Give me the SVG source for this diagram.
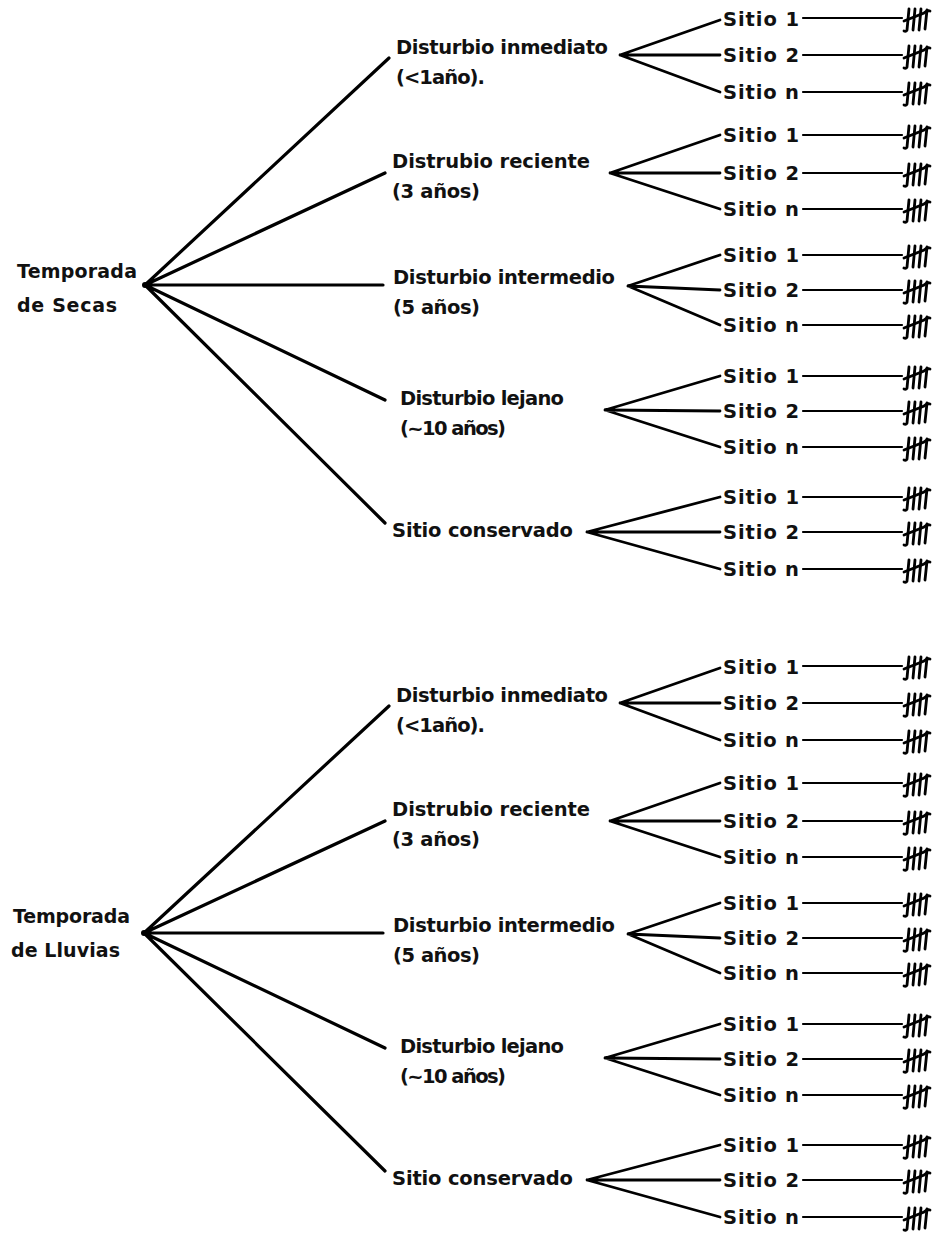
<svg xmlns="http://www.w3.org/2000/svg" xmlns:xlink="http://www.w3.org/1999/xlink" width="936" height="1236" viewBox="0 0 936 1236">
<style>
.t{font-family:"DejaVu Sans","Liberation Sans",sans-serif;font-weight:bold;font-size:19.5px;fill:#111}
.r{font-size:19px}
.c{stroke:#000;fill:none;stroke-linecap:round}
.m{stroke-width:3.2}
.s{stroke-width:2.8}
.h{stroke-width:2.2}
.tk{stroke:#000;stroke-width:2.8;fill:none;stroke-linecap:round}
</style>
<defs>
<g id="tally">
<path class="tk" d="M5 12 L7 -9 M5 12 Q4 14 2 13"/>
<path class="tk" d="M11 12 L13 -9"/>
<path class="tk" d="M17 12 L19 -9"/>
<path class="tk" d="M23 11 L25 -8"/>
<path class="tk" d="M2 3 L22 -5 Q25 -8 28 -7"/>
</g>
</defs>
<rect width="936" height="1236" fill="#fff"/>

<g id="connectors">
<path class="c m" d="M145 285 L389 58 M145 285 L385 173 M145 285 L383 285 M145 285 L385 400 M145 285 L385 523"/>
<path class="c s" d="M620 55 L720 20 M620 55 L720 55 M620 55 L720 92"/>
<path class="c s" d="M610 173 L720 135 M610 173 L720 173 M610 173 L720 209"/>
<path class="c s" d="M628 286 L720 255 M628 286 L720 290 M628 286 L720 325"/>
<path class="c s" d="M605 410 L720 376 M605 410 L720 411 M605 410 L720 447"/>
<path class="c s" d="M587 532 L720 497 M587 532 L720 532 M587 532 L720 569"/>
<path class="c h" d="M803 18 L902 18 M803 55 L902 55 M803 92 L902 92"/>
<path class="c h" d="M803 135 L902 135 M803 173 L902 173 M803 209 L902 209"/>
<path class="c h" d="M803 255 L902 255 M803 290 L902 290 M803 325 L902 325"/>
<path class="c h" d="M803 376 L902 376 M803 411 L902 411 M803 447 L902 447"/>
<path class="c h" d="M803 497 L902 497 M803 532 L902 532 M803 569 L902 569"/>
<path class="c m" d="M144 933 L389 706 M144 933 L385 821 M144 933 L383 933 M144 933 L385 1048 M144 933 L385 1171"/>
<path class="c s" d="M620 703 L720 668 M620 703 L720 703 M620 703 L720 740"/>
<path class="c s" d="M610 821 L720 783 M610 821 L720 821 M610 821 L720 857"/>
<path class="c s" d="M628 934 L720 903 M628 934 L720 938 M628 934 L720 973"/>
<path class="c s" d="M605 1058 L720 1024 M605 1058 L720 1059 M605 1058 L720 1095"/>
<path class="c s" d="M587 1180 L720 1145 M587 1180 L720 1180 M587 1180 L720 1217"/>
<path class="c h" d="M803 666 L902 666 M803 703 L902 703 M803 740 L902 740"/>
<path class="c h" d="M803 783 L902 783 M803 821 L902 821 M803 857 L902 857"/>
<path class="c h" d="M803 903 L902 903 M803 938 L902 938 M803 973 L902 973"/>
<path class="c h" d="M803 1024 L902 1024 M803 1059 L902 1059 M803 1095 L902 1095"/>
<path class="c h" d="M803 1145 L902 1145 M803 1180 L902 1180 M803 1217 L902 1217"/>
</g>

<g id="root-secas">
<text class="t r" x="17" y="278" textLength="120">Temporada</text>
<text class="t r" x="17" y="312" textLength="100">de Secas</text>
<circle cx="145" cy="285" r="3" fill="#000"/>
</g>
<g id="secas-inmediato"><text class="t" x="396" y="54" textLength="212">Disturbio inmediato</text><text class="t" x="396" y="84" textLength="89">(&lt;1año).</text></g>
<g id="secas-reciente"><text class="t" x="392" y="168" textLength="198">Distrubio reciente</text><text class="t" x="392" y="198" textLength="88">(3 años)</text></g>
<g id="secas-intermedio"><text class="t" x="393" y="284" textLength="222">Disturbio intermedio</text><text class="t" x="393" y="314" textLength="87">(5 años)</text></g>
<g id="secas-lejano"><text class="t" x="400" y="405" textLength="164">Disturbio lejano</text><text class="t" x="400" y="435" textLength="106">(~10 años)</text></g>
<g id="secas-conservado"><text class="t" x="392" y="537" textLength="181">Sitio conservado</text></g>

<g id="secas-sitios">
<g id="s1-1"><text class="t" x="723" y="26" textLength="76">Sitio 1</text><use xlink:href="#tally" x="902" y="18"/></g>
<g id="s1-2"><text class="t" x="723" y="62" textLength="76">Sitio 2</text><use xlink:href="#tally" x="902" y="55"/></g>
<g id="s1-n"><text class="t" x="723" y="99" textLength="76">Sitio n</text><use xlink:href="#tally" x="902" y="92"/></g>
<g id="s2-1"><text class="t" x="723" y="142" textLength="76">Sitio 1</text><use xlink:href="#tally" x="902" y="135"/></g>
<g id="s2-2"><text class="t" x="723" y="180" textLength="76">Sitio 2</text><use xlink:href="#tally" x="902" y="173"/></g>
<g id="s2-n"><text class="t" x="723" y="216" textLength="76">Sitio n</text><use xlink:href="#tally" x="902" y="209"/></g>
<g id="s3-1"><text class="t" x="723" y="262" textLength="76">Sitio 1</text><use xlink:href="#tally" x="902" y="255"/></g>
<g id="s3-2"><text class="t" x="723" y="297" textLength="76">Sitio 2</text><use xlink:href="#tally" x="902" y="290"/></g>
<g id="s3-n"><text class="t" x="723" y="332" textLength="76">Sitio n</text><use xlink:href="#tally" x="902" y="325"/></g>
<g id="s4-1"><text class="t" x="723" y="383" textLength="76">Sitio 1</text><use xlink:href="#tally" x="902" y="376"/></g>
<g id="s4-2"><text class="t" x="723" y="418" textLength="76">Sitio 2</text><use xlink:href="#tally" x="902" y="411"/></g>
<g id="s4-n"><text class="t" x="723" y="454" textLength="76">Sitio n</text><use xlink:href="#tally" x="902" y="447"/></g>
<g id="s5-1"><text class="t" x="723" y="504" textLength="76">Sitio 1</text><use xlink:href="#tally" x="902" y="497"/></g>
<g id="s5-2"><text class="t" x="723" y="539" textLength="76">Sitio 2</text><use xlink:href="#tally" x="902" y="532"/></g>
<g id="s5-n"><text class="t" x="723" y="576" textLength="76">Sitio n</text><use xlink:href="#tally" x="902" y="569"/></g>
</g>

<g id="root-lluvias">
<text class="t r" x="13" y="923" textLength="117">Temporada</text>
<text class="t r" x="11" y="957" textLength="109">de Lluvias</text>
<circle cx="144" cy="933" r="3" fill="#000"/>
</g>
<g id="lluvias-inmediato"><text class="t" x="396" y="702" textLength="212">Disturbio inmediato</text><text class="t" x="396" y="732" textLength="89">(&lt;1año).</text></g>
<g id="lluvias-reciente"><text class="t" x="392" y="816" textLength="198">Distrubio reciente</text><text class="t" x="392" y="846" textLength="88">(3 años)</text></g>
<g id="lluvias-intermedio"><text class="t" x="393" y="932" textLength="222">Disturbio intermedio</text><text class="t" x="393" y="962" textLength="87">(5 años)</text></g>
<g id="lluvias-lejano"><text class="t" x="400" y="1053" textLength="164">Disturbio lejano</text><text class="t" x="400" y="1083" textLength="106">(~10 años)</text></g>
<g id="lluvias-conservado"><text class="t" x="392" y="1185" textLength="181">Sitio conservado</text></g>

<g id="lluvias-sitios">
<g id="l1-1"><text class="t" x="723" y="674" textLength="76">Sitio 1</text><use xlink:href="#tally" x="902" y="666"/></g>
<g id="l1-2"><text class="t" x="723" y="710" textLength="76">Sitio 2</text><use xlink:href="#tally" x="902" y="703"/></g>
<g id="l1-n"><text class="t" x="723" y="747" textLength="76">Sitio n</text><use xlink:href="#tally" x="902" y="740"/></g>
<g id="l2-1"><text class="t" x="723" y="790" textLength="76">Sitio 1</text><use xlink:href="#tally" x="902" y="783"/></g>
<g id="l2-2"><text class="t" x="723" y="828" textLength="76">Sitio 2</text><use xlink:href="#tally" x="902" y="821"/></g>
<g id="l2-n"><text class="t" x="723" y="864" textLength="76">Sitio n</text><use xlink:href="#tally" x="902" y="857"/></g>
<g id="l3-1"><text class="t" x="723" y="910" textLength="76">Sitio 1</text><use xlink:href="#tally" x="902" y="903"/></g>
<g id="l3-2"><text class="t" x="723" y="945" textLength="76">Sitio 2</text><use xlink:href="#tally" x="902" y="938"/></g>
<g id="l3-n"><text class="t" x="723" y="980" textLength="76">Sitio n</text><use xlink:href="#tally" x="902" y="973"/></g>
<g id="l4-1"><text class="t" x="723" y="1031" textLength="76">Sitio 1</text><use xlink:href="#tally" x="902" y="1024"/></g>
<g id="l4-2"><text class="t" x="723" y="1066" textLength="76">Sitio 2</text><use xlink:href="#tally" x="902" y="1059"/></g>
<g id="l4-n"><text class="t" x="723" y="1102" textLength="76">Sitio n</text><use xlink:href="#tally" x="902" y="1095"/></g>
<g id="l5-1"><text class="t" x="723" y="1152" textLength="76">Sitio 1</text><use xlink:href="#tally" x="902" y="1145"/></g>
<g id="l5-2"><text class="t" x="723" y="1187" textLength="76">Sitio 2</text><use xlink:href="#tally" x="902" y="1180"/></g>
<g id="l5-n"><text class="t" x="723" y="1224" textLength="76">Sitio n</text><use xlink:href="#tally" x="902" y="1217"/></g>
</g>
</svg>
